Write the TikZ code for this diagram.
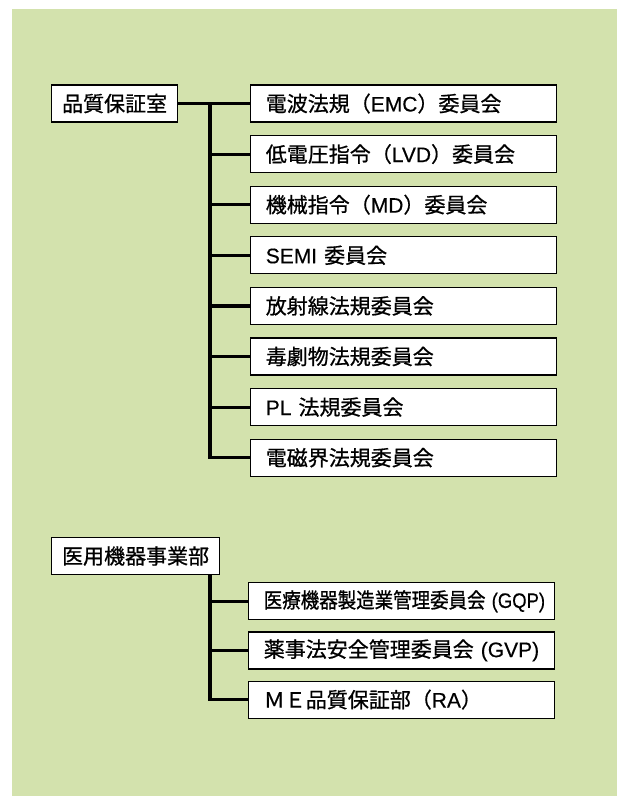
\documentclass[tikz,border=0pt]{standalone}
\usepackage{graphicx,xcolor}
\usepackage{fontspec}
\newfontfamily\jpfont[FakeBold=0.8]{Noto Sans CJK JP}
\newfontfamily\lat[FakeBold=0.3]{Liberation Sans}
\usepackage{tikz}
\usetikzlibrary{calc,positioning}
\definecolor{bggreen}{RGB}{211,226,173}
\tikzset{
  link/.style={line width=3.2pt, line join=miter},
  box/.style={draw, line width=1.2pt, fill=white, minimum height=37pt, inner ysep=0pt,
    font=\jpfont\fontsize{21pt}{25pt}\selectfont},
  rootbox/.style={box, inner xsep=10.5pt},
  combox/.style={box, text width=276pt, align=left, inner xsep=15pt}
}
\begin{document}
\begin{tikzpicture}[node distance=12.4pt]
  \useasboundingbox (0,0) rectangle (617pt,-796pt);
  \fill[bggreen] (12pt,-9pt) rectangle (640pt,-820pt);

  \node[rootbox, anchor=west] (qa) at (51pt,-103.5pt) {品質保証室};
  \node[combox, right=72pt of qa] (c1) {電波法規（{\lat EMC}）委員会};
  \node[combox, below=of c1] (c2) {低電圧指令（{\lat LVD}）委員会};
  \node[combox, below=of c2] (c3) {機械指令（{\lat MD}）委員会};
  \node[combox, below=of c3] (c4) {{\lat SEMI} 委員会};
  \node[combox, below=of c4] (c5) {放射線法規委員会};
  \node[combox, below=of c5] (c6) {毒劇物法規委員会};
  \node[combox, below=of c6] (c7) {{\lat PL} 法規委員会};
  \node[combox, below=of c7] (c8) {電磁界法規委員会};

  \node[rootbox, anchor=west] (med) at (51pt,-556pt) {医用機器事業部};
  \node[combox, below right=7pt and 28pt of med] (m1) {\scalebox{0.88}[1]{医療機器製造業管理委員会 {\lat (GQP)}}};
  \node[combox, below=11pt of m1] (m2) {薬事法安全管理委員会 {\lat (GVP)}};
  \node[combox, below=11pt of m2] (m3) {ＭＥ品質保証部（{\lat RA}）};

  \coordinate (trunk) at (210pt,0);

  \draw[link] (qa.east) -- (c1.west);
  \draw[link] (qa.east -| trunk) |- (c8.west);
  \foreach \i in {2,...,7}
    \draw[link] (c\i.west -| trunk) -- (c\i.west);

  \draw[link] (med.south -| trunk) |- (m3.west);
  \foreach \i in {1,2}
    \draw[link] (m\i.west -| trunk) -- (m\i.west);
\end{tikzpicture}
\end{document}
